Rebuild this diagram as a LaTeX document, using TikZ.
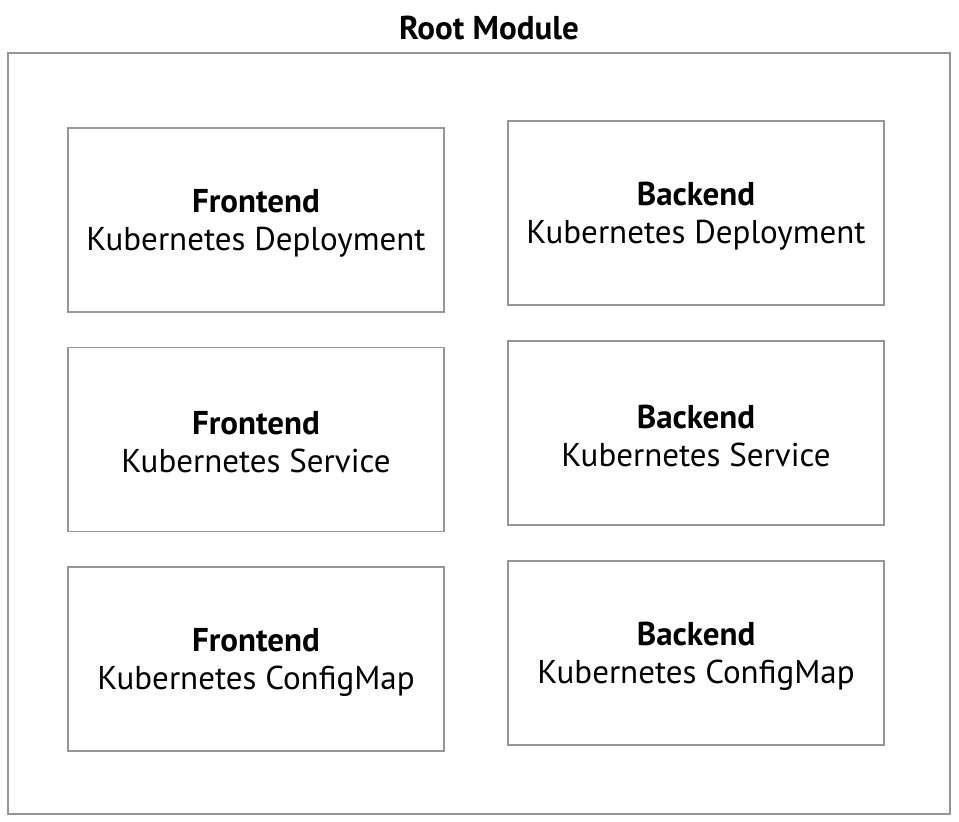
\documentclass[tikz,border=0pt]{standalone}
\usepackage{fontspec}
\setmainfont{PT Sans}
\definecolor{boxgray}{RGB}{150,150,150}
\begin{document}
\begin{tikzpicture}[x=1pt,y=-1pt,
  box/.style={draw=boxgray, line width=1.6pt, minimum width=376pt, minimum height=184pt, inner sep=0pt},
  boxtext/.style={align=center, inner sep=0pt, yshift=-3pt, font=\fontsize{33}{38}\selectfont},
  outer/.style={draw=boxgray, line width=1.8pt, minimum width=942pt, minimum height=761pt, inner sep=0pt},
  titlestyle/.style={font=\fontsize{33}{38}\selectfont\bfseries, inner sep=0pt}]
\useasboundingbox[fill=white] (0,0) rectangle (959,822);
\node[outer] (root) at (479,433.5) {};
\node[titlestyle] (title) at (489,28) {Root Module};
\node[box, label={[boxtext]center:\textbf{Frontend}\\Kubernetes Deployment}] (fd) at (256,220) {};
\node[box, label={[boxtext]center:\textbf{Frontend}\\Kubernetes Service}] (fs) at (256,439.5) {};
\node[box, label={[boxtext]center:\textbf{Frontend}\\Kubernetes ConfigMap}] (fc) at (256,659) {};
\node[box, label={[boxtext]center:\textbf{Backend}\\Kubernetes Deployment}] (bd) at (696,213) {};
\node[box, label={[boxtext]center:\textbf{Backend}\\Kubernetes Service}] (bs) at (696,433) {};
\node[box, label={[boxtext]center:\textbf{Backend}\\Kubernetes ConfigMap}] (bc) at (696,653) {};
\end{tikzpicture}
\end{document}
